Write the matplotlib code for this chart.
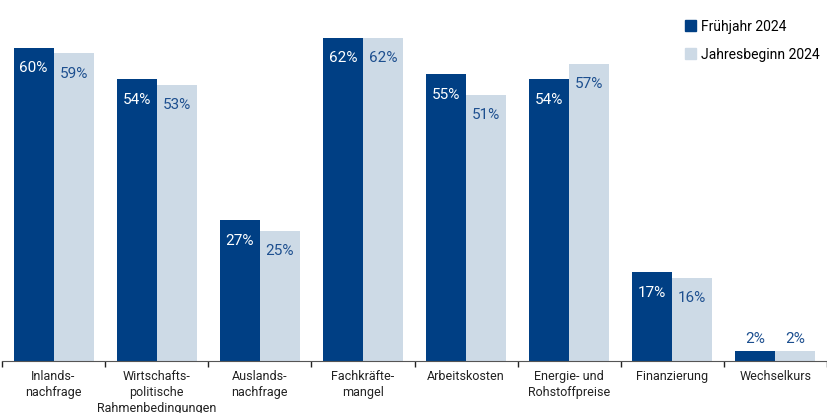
import numpy as np
import matplotlib
matplotlib.use("Agg")
import matplotlib.pyplot as plt
from matplotlib.patches import Patch

plt.rcParams['font.family'] = ['Roboto', 'DejaVu Sans']

categories = ["Inlands-\nnachfrage", "Wirtschafts-\npolitische\nRahmenbedingungen",
              "Auslands-\nnachfrage", "Fachkräfte-\nmangel", "Arbeitskosten",
              "Energie- und\nRohstoffpreise", "Finanzierung", "Wechselkurs"]
fruehjahr = [60, 54, 27, 62, 55, 54, 17, 2]
jahresbeginn = [59, 53, 25, 62, 51, 57, 16, 2]
series_names = ["Frühjahr 2024", "Jahresbeginn 2024"]

dark = "#003f84"
light = "#cddae6"
text_blue = "#1d4f8f"

fig = plt.figure(figsize=(8.27, 4.14), dpi=100)
ax = fig.add_axes([2/827, 52/414, 825/827, 362/414])

x = np.arange(len(categories))
w = 0.388
ax.bar(x - w/2, fruehjahr, w, color=dark)
ax.bar(x + w/2, jahresbeginn, w, color=light)

# labels: inside the bar near the top, above it for very small bars
for offs, vals, col in [(-w/2, fruehjahr, "white"), (w/2, jahresbeginn, text_blue)]:
    for xi, v in zip(x, vals):
        if v >= 10:
            ax.annotate(f"{v}%", (xi + offs, v), xytext=(0, -14), textcoords="offset points",
                        ha="center", va="center", color=col, fontsize=11)
        else:
            ax.annotate(f"{v}%", (xi + offs, v), xytext=(0, 9), textcoords="offset points",
                        ha="center", va="center", color=text_blue, fontsize=11)

ax.set_xlim(-0.5, len(categories) - 0.5)
ax.set_ylim(0, 69.4)
ax.set_xticks(x)
ax.set_xticklabels(categories, fontsize=9, color="#222222", linespacing=1.3)
ax.tick_params(axis="x", which="major", length=0, pad=6)
ax.set_xticks(np.arange(-0.5, len(categories)), minor=True)
ax.tick_params(axis="x", which="minor", length=4, width=1, color="#222222")
ax.set_yticks([])
for s in ["top", "right", "left"]:
    ax.spines[s].set_visible(False)
ax.spines["bottom"].set_color("#555555")

handles = [Patch(color=dark), Patch(color=light)]
fig.legend(handles, series_names, loc="upper left", bbox_to_anchor=(672/827, 1 - 8/414),
           frameon=False, fontsize=10, handlelength=0.8, handleheight=0.8,
           handletextpad=0.4, labelspacing=1.0)

fig.savefig("out.png", dpi=100)
